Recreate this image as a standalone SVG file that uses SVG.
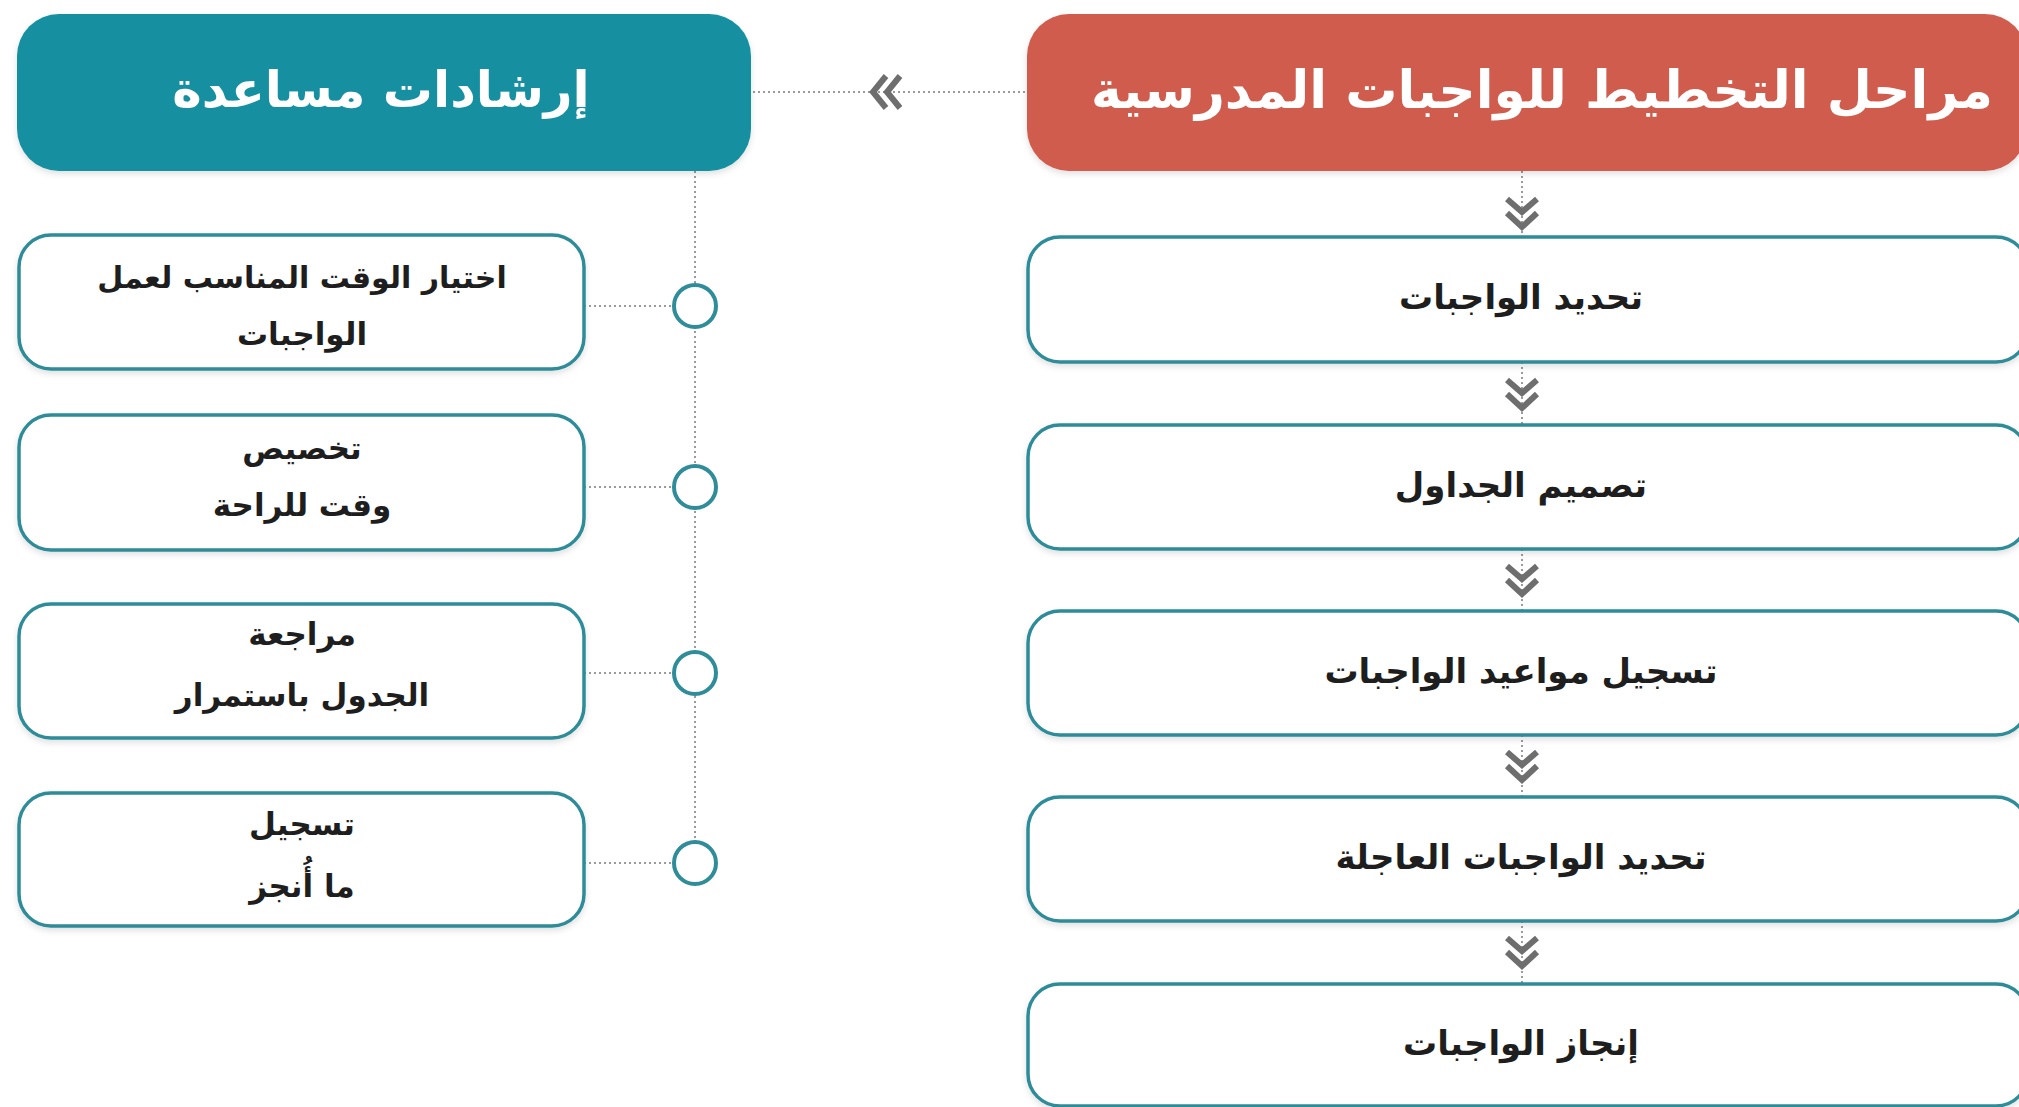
<svg xmlns="http://www.w3.org/2000/svg" width="2019" height="1107" viewBox="0 0 2019 1107">
<defs>
<style>
.hdr{font-family:"DejaVu Sans",sans-serif;font-weight:bold;fill:#ffffff;text-anchor:middle;dominant-baseline:central}
.txt{font-family:"DejaVu Sans",sans-serif;font-weight:bold;fill:#1e1e1e;text-anchor:middle;dominant-baseline:central}
.box{fill:#ffffff;stroke:#2f8c99;stroke-width:3.5}
.dot{fill:none;stroke:#9a9a9a;stroke-width:2;stroke-dasharray:2 3}
.chev{fill:none;stroke:#6e6e6e;stroke-width:6;stroke-linecap:butt;stroke-linejoin:miter}
.circ{fill:#ffffff;stroke:#2f8c99;stroke-width:4}
</style>
<filter id="sh" x="-5%" y="-10%" width="110%" height="130%">
<feDropShadow dx="0" dy="3" stdDeviation="3" flood-color="#000" flood-opacity="0.12"/>
</filter>
<g id="chevDown">
<polyline class="chev" points="-15,-17 0,-4 15,-17"/>
<polyline class="chev" points="-15,-3 0,11 15,-3"/>
</g>
</defs>
<rect width="2019" height="1107" fill="#ffffff"/>

<g id="connectors">
<line class="dot" x1="753" y1="92" x2="1026" y2="92"/>
<g transform="translate(888,92)">
<polyline class="chev" points="-2,-16 -15,0 -2,16"/>
<polyline class="chev" points="12,-16 -1,0 12,16"/>
</g>
<line class="dot" x1="1522" y1="171" x2="1522" y2="237"/>
<line class="dot" x1="1522" y1="362" x2="1522" y2="425"/>
<line class="dot" x1="1522" y1="549" x2="1522" y2="611"/>
<line class="dot" x1="1522" y1="735" x2="1522" y2="797"/>
<line class="dot" x1="1522" y1="921" x2="1522" y2="984"/>
<use href="#chevDown" x="1522" y="216"/>
<use href="#chevDown" x="1522" y="397"/>
<use href="#chevDown" x="1522" y="583"/>
<use href="#chevDown" x="1522" y="769"/>
<use href="#chevDown" x="1522" y="955"/>
<line class="dot" x1="695" y1="171" x2="695" y2="842"/>
<line class="dot" x1="584" y1="306" x2="674" y2="306"/>
<line class="dot" x1="584" y1="487" x2="674" y2="487"/>
<line class="dot" x1="584" y1="673" x2="674" y2="673"/>
<line class="dot" x1="584" y1="863" x2="674" y2="863"/>
<circle class="circ" cx="695" cy="306" r="21"/>
<circle class="circ" cx="695" cy="487" r="21"/>
<circle class="circ" cx="695" cy="673" r="21"/>
<circle class="circ" cx="695" cy="863" r="21"/>
</g>

<g id="header-red">
<rect x="1027" y="14" width="1000" height="157" rx="42" fill="#d05b4d" filter="url(#sh)"/>
<text class="hdr" x="1542" y="90" font-size="52">مراحل التخطيط للواجبات المدرسية</text>
</g>
<g id="header-teal">
<rect x="17" y="14" width="734" height="157" rx="42" fill="#1690a1" filter="url(#sh)"/>
<text class="hdr" x="381" y="90" font-size="50">إرشادات مساعدة</text>
</g>

<g id="step1"><rect class="box" x="1028" y="237" width="1000" height="125" rx="32" filter="url(#sh)"/><text class="txt" x="1521" y="297" font-size="34">تحديد الواجبات</text></g>
<g id="step2"><rect class="box" x="1028" y="425" width="1000" height="124" rx="32" filter="url(#sh)"/><text class="txt" x="1521" y="485" font-size="34">تصميم الجداول</text></g>
<g id="step3"><rect class="box" x="1028" y="611" width="1000" height="124" rx="32" filter="url(#sh)"/><text class="txt" x="1521" y="671" font-size="34">تسجيل مواعيد الواجبات</text></g>
<g id="step4"><rect class="box" x="1028" y="797" width="1000" height="124" rx="32" filter="url(#sh)"/><text class="txt" x="1521" y="857" font-size="34">تحديد الواجبات العاجلة</text></g>
<g id="step5"><rect class="box" x="1028" y="984" width="1000" height="122" rx="32" filter="url(#sh)"/><text class="txt" x="1521" y="1043" font-size="34">إنجاز الواجبات</text></g>

<g id="tip1"><rect class="box" x="19" y="235" width="565" height="134" rx="32" filter="url(#sh)"/><text class="txt" x="302" y="277" font-size="30">اختيار الوقت المناسب لعمل</text><text class="txt" x="302" y="334" font-size="31">الواجبات</text></g>
<g id="tip2"><rect class="box" x="19" y="415" width="565" height="135" rx="32" filter="url(#sh)"/><text class="txt" x="302" y="448" font-size="31">تخصيص</text><text class="txt" x="302" y="505" font-size="31">وقت للراحة</text></g>
<g id="tip3"><rect class="box" x="19" y="604" width="565" height="134" rx="32" filter="url(#sh)"/><text class="txt" x="302" y="634" font-size="31">مراجعة</text><text class="txt" x="302" y="695" font-size="31">الجدول باستمرار</text></g>
<g id="tip4"><rect class="box" x="19" y="793" width="565" height="133" rx="32" filter="url(#sh)"/><text class="txt" x="302" y="824" font-size="31">تسجيل</text><text class="txt" x="302" y="886" font-size="31">ما أُنجز</text></g>
</svg>
